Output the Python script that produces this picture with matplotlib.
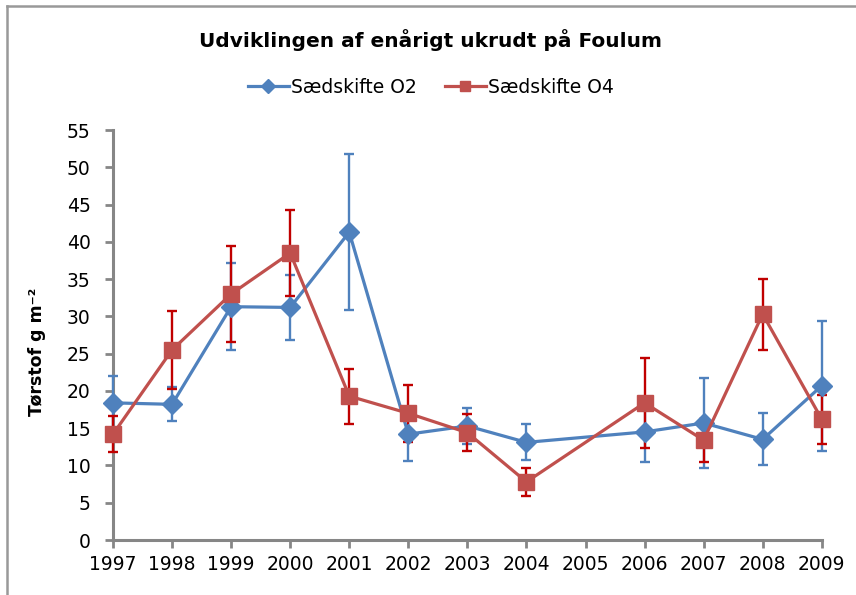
import numpy as np
import matplotlib.pyplot as plt
from matplotlib.lines import Line2D

plt.rcParams['font.family'] = ['DejaVu Sans']

years = [1997, 1998, 1999, 2000, 2001, 2002, 2003, 2004, 2005, 2006, 2007, 2008, 2009]
o2 = [18.4, 18.2, 31.3, 31.2, 41.3, 14.2, 15.3, 13.1, np.nan, 14.5, 15.7, 13.5, 20.7]
o2_err = [3.6, 2.3, 5.8, 4.4, 10.5, 3.6, 2.4, 2.4, np.nan, 4.1, 6.0, 3.5, 8.7]
o4 = [14.2, 25.5, 33.0, 38.5, 19.3, 17.0, 14.4, 7.8, np.nan, 18.4, 13.4, 30.3, 16.2]
o4_err = [2.4, 5.2, 6.4, 5.8, 3.7, 3.8, 2.5, 1.85, np.nan, 6.0, 2.9, 4.75, 3.3]

blue = '#4F81BD'
red = '#C0504D'
red_err = '#C00000'
axis_grey = '#868686'

fig = plt.figure(figsize=(8.56, 5.95), dpi=100)
ax = fig.add_axes([0.132, 0.0924, 0.828, 0.6891])

x = np.array(years, dtype=float)
for vals, errs, col, ecol, mk, ms in [(o2, o2_err, blue, blue, 'D', 10.5),
                                      (o4, o4_err, red, red_err, 's', 11.5)]:
    v = np.array(vals)
    e = np.array(errs)
    ok = ~np.isnan(v)
    eb = ax.errorbar(x[ok], v[ok], yerr=e[ok], fmt='none', ecolor=ecol,
                     elinewidth=1.7, capsize=3.5, capthick=1.7, zorder=3)
    for art in eb.lines[1] + eb.lines[2]:
        art.set_clip_on(False)
    ax.plot(x[ok], v[ok], color=col, lw=2.3, marker=mk, markersize=ms,
            markerfacecolor=col, markeredgecolor=col, zorder=4, clip_on=False)

ax.set_xlim(1997, 2009)
ax.set_ylim(0, 55)
ax.set_xticks(years)
ax.set_xticklabels([str(y) for y in years])
ax.set_yticks(range(0, 56, 5))
ax.tick_params(axis='both', labelsize=13.5, colors='black', length=6,
               width=2, direction='out', color=axis_grey)
ax.tick_params(axis='x', pad=5)
ax.tick_params(axis='y', pad=10)
for s in ['top', 'right']:
    ax.spines[s].set_visible(False)
for s in ['left', 'bottom']:
    ax.spines[s].set_color(axis_grey)
    ax.spines[s].set_linewidth(2.2)

ax.set_ylabel('Tørstof g m⁻²', fontsize=12.5, fontweight='bold')
ax.yaxis.set_label_coords(-0.095, 0.46)

fig.text(0.503, 0.933, 'Udviklingen af enårigt ukrudt på Foulum', ha='center',
         va='center', fontsize=14.5, fontweight='bold')

handles = [Line2D([], [], color=blue, lw=2.3, marker='D', markersize=7),
           Line2D([], [], color=red, lw=2.3, marker='s', markersize=7)]
fig.legend(handles, ['Sædskifte O2', 'Sædskifte O4'], loc='center',
           bbox_to_anchor=(0.503, 0.853), ncol=2, frameon=False, fontsize=13.5,
           handlelength=2.2, handletextpad=0.1, columnspacing=1.5)

# chart border (left and top edges visible)
fig.add_artist(Line2D([7 / 856, 7 / 856], [0, 1 - 6 / 595], color='#999999', lw=1.8))
fig.add_artist(Line2D([7 / 856, 1], [1 - 6 / 595, 1 - 6 / 595], color='#999999', lw=1.8))

fig.savefig('out.png', dpi=100)
